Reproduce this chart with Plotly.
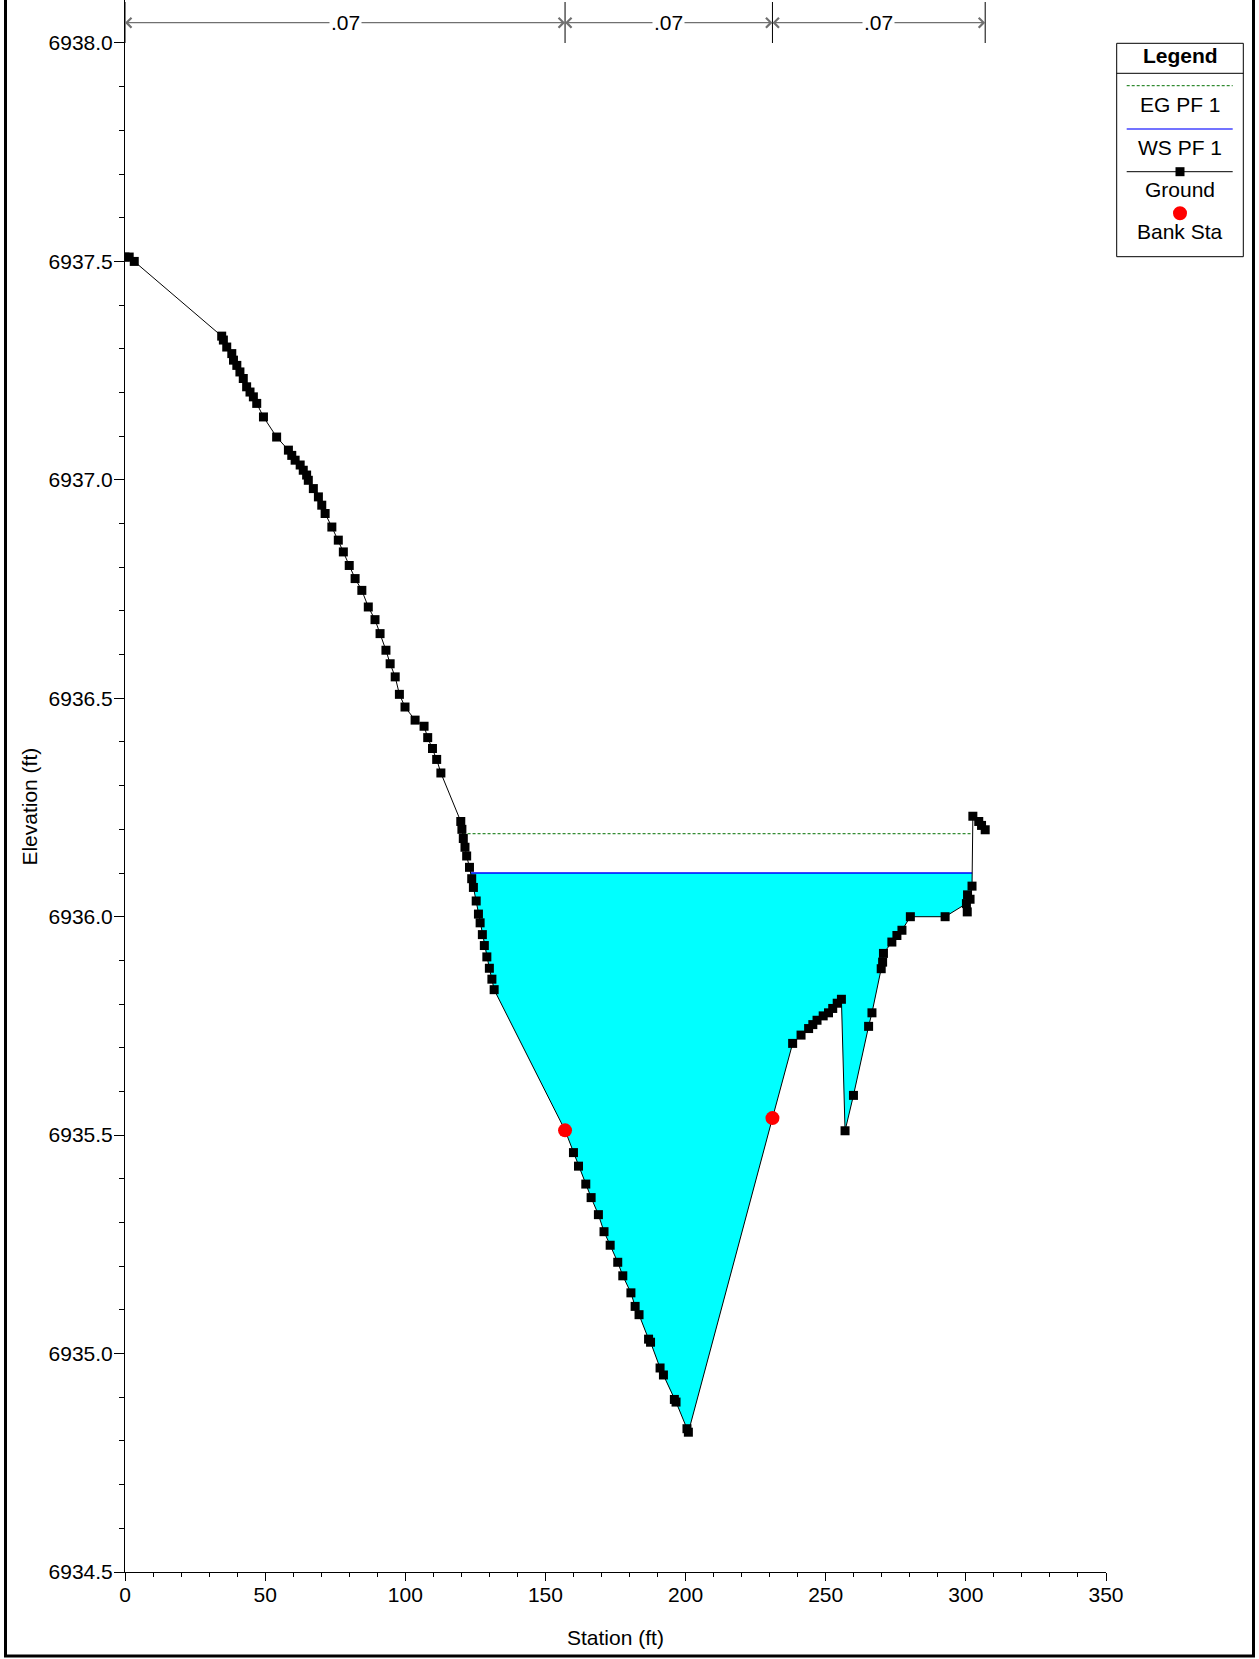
import numpy as np
import plotly.graph_objects as go

# ---------------- data ----------------
station = [
    0.0, 1.5, 3.3,
    34.5, 35.1, 36.3, 38.1, 38.7, 39.9, 41.0, 42.2, 43.4, 44.6, 45.8, 47.0, 49.4,
    54.1, 58.3, 59.5, 60.7, 62.5, 63.6, 64.8, 65.4, 67.2, 69.0, 70.2, 71.4, 73.8,
    76.1, 77.9, 80.0, 82.1, 84.5, 86.8, 89.2, 91.0, 93.1, 94.6, 96.4, 97.9, 99.9,
    103.5, 106.7, 108.0, 109.7, 111.2, 112.7,
    119.8, 120.2, 120.7, 121.3, 121.9, 122.9, 123.7, 124.3, 125.3, 126.1, 126.7,
    127.5, 128.2, 129.1, 130.0, 130.9, 131.7,
    157.0,
    160.0, 161.8, 164.4, 166.3, 168.9, 170.9, 173.1, 175.8, 177.6, 180.5, 182.0,
    183.4, 186.8, 187.5, 190.9, 192.1, 196.0, 196.6, 200.5, 201.0,
    231.0,
    238.2, 241.2, 243.9, 245.4, 246.9, 249.1, 251.0, 252.5, 254.1, 255.6,
    256.9, 259.9, 265.3, 266.5, 269.8, 270.3, 270.6, 273.6, 275.4, 277.2, 280.2,
    292.6, 300.2, 300.5, 300.6, 301.5, 302.2, 302.5, 304.6, 305.6, 306.9,
]
elevation = [
    6937.51, 6937.51, 6937.50,
    6937.329, 6937.320, 6937.304, 6937.289, 6937.274, 6937.262, 6937.247, 6937.232,
    6937.213, 6937.201, 6937.190, 6937.175, 6937.144,
    6937.098, 6937.068, 6937.056, 6937.045, 6937.034, 6937.022, 6937.011, 6936.999,
    6936.980, 6936.961, 6936.942, 6936.923, 6936.892,
    6936.862, 6936.835, 6936.804, 6936.774, 6936.747, 6936.709, 6936.680, 6936.648,
    6936.610, 6936.579, 6936.549, 6936.509, 6936.480,
    6936.450, 6936.436, 6936.410, 6936.385, 6936.360, 6936.329,
    6936.218, 6936.200, 6936.179, 6936.159, 6936.139, 6936.113, 6936.087, 6936.067,
    6936.036, 6936.006, 6935.986, 6935.959, 6935.934, 6935.908, 6935.882, 6935.857,
    6935.833,
    6935.511,
    6935.460, 6935.429, 6935.388, 6935.357, 6935.318, 6935.279, 6935.248, 6935.209,
    6935.178, 6935.139, 6935.108, 6935.089, 6935.033, 6935.026, 6934.967, 6934.951,
    6934.895, 6934.889, 6934.828, 6934.820,
    6935.539,
    6935.710, 6935.729, 6935.744, 6935.753, 6935.763, 6935.773, 6935.780, 6935.790,
    6935.802, 6935.811,
    6935.510, 6935.591, 6935.749, 6935.780, 6935.881, 6935.896, 6935.916, 6935.942,
    6935.957, 6935.969, 6936.000,
    6936.000, 6936.030, 6936.011, 6936.050, 6936.040, 6936.070, 6936.230, 6936.218,
    6936.209, 6936.199,
]
bank_sta = [157.0, 231.0]
ws_elev = 6936.10
eg_elev = 6936.19
n_values = [".07", ".07", ".07"]

# ---------------- geometry helpers ----------------
W, H = 1259, 1659
ML, MR, MT, MB = 125, 153, 0, 87
PW, PH = W - ML - MR, H - MT - MB
Y0, PX_PER_FT_Y = 6934.5, 436.86
YTOP = Y0 + PH / PX_PER_FT_Y


def px_x(px):
    return (px - ML) / PW


def px_y(py):
    return (MT + PH - py) / PH


st = np.array(station)
el = np.array(elevation)


def crossing(level):
    i = int(np.argmax(el <= level))
    xl = st[i - 1] + (level - el[i - 1]) * (st[i] - st[i - 1]) / (el[i] - el[i - 1])
    j = len(el) - 1 - int(np.argmax(el[::-1] <= level))
    xr = st[j] + (level - el[j]) * (st[j + 1] - st[j]) / (el[j + 1] - el[j])
    return i, j, xl, xr


FONT = "Liberation Sans, Arial, sans-serif"
fig = go.Figure()

# water fill
i, j, xl, xr = crossing(ws_elev)
fig.add_trace(go.Scatter(
    x=[xl] + station[i:j + 1] + [xr],
    y=[ws_elev] + elevation[i:j + 1] + [ws_elev],
    fill="toself", fillcolor="#00FFFF", mode="none", hoverinfo="skip",
    showlegend=False))

# EG line
_, _, exl, exr = crossing(eg_elev)
fig.add_trace(go.Scatter(x=[exl, exr], y=[eg_elev, eg_elev], mode="lines",
                         line=dict(color="#007000", width=1, dash="3px,2px"),
                         name="EG PF 1", showlegend=False))
# WS line
fig.add_trace(go.Scatter(x=[xl, xr], y=[ws_elev, ws_elev], mode="lines",
                         line=dict(color="#0000FF", width=1.3),
                         name="WS PF 1", showlegend=False))
# Ground
fig.add_trace(go.Scatter(x=station, y=elevation, mode="lines+markers",
                         line=dict(color="black", width=1),
                         marker=dict(symbol="square", size=9, color="black"),
                         name="Ground", showlegend=False))
# Bank stations
bank_elev = list(np.interp(bank_sta, st, el))
fig.add_trace(go.Scatter(x=bank_sta, y=bank_elev, mode="markers",
                         marker=dict(symbol="circle", size=14, color="#FF0000"),
                         name="Bank Sta", showlegend=False))

shapes = []
annotations = []


def label(x, y, text, xref="paper", yref="paper", **kw):
    d = dict(x=x, y=y, xref=xref, yref=yref, text=text, showarrow=False,
             xanchor="center", yanchor="middle",
             font=dict(family=FONT, size=21, color="black"))
    d.update(kw)
    annotations.append(d)


# n-value segments
n_breaks = [station[0]] + bank_sta + [station[-1]]
y_arrow = px_y(22.7)
for xb in n_breaks:
    shapes.append(dict(type="line", xref="x", yref="paper", x0=xb, x1=xb,
                       y0=px_y(43), y1=px_y(2), line=dict(color="black", width=1)))
for k, nv in enumerate(n_values):
    a, b = n_breaks[k], n_breaks[k + 1]
    m = (a + b) / 2
    for end in (a, b):
        annotations.append(dict(x=end, y=y_arrow, xref="x", yref="paper",
                                ax=m, ay=0, axref="x", ayref="pixel", text="",
                                showarrow=True, arrowhead=4, arrowsize=1.6,
                                arrowwidth=1.2, arrowcolor="#707070", standoff=0))
for k, nv in enumerate(n_values):
    a, b = n_breaks[k], n_breaks[k + 1]
    label((a + b) / 2, y_arrow, nv, xref="x", bgcolor="white", borderpad=1)

# axis titles
label(px_x(615.5), px_y(1637), "Station (ft)")
label(px_x(29.6), px_y(807), "Elevation (ft)", textangle=-90)

# legend (drawn manually)
LX0, LX1, LY0, LY1 = 1116.7, 1243.3, 43.3, 256.7
LC = (LX0 + LX1) / 2
shapes.append(dict(type="rect", xref="paper", yref="paper",
                   x0=px_x(LX0), x1=px_x(LX1), y0=px_y(LY1), y1=px_y(LY0),
                   line=dict(color="black", width=1), fillcolor="white", layer="above"))
shapes.append(dict(type="line", xref="paper", yref="paper",
                   x0=px_x(LX0), x1=px_x(LX1), y0=px_y(73.3), y1=px_y(73.3),
                   line=dict(color="black", width=1)))
sx0, sx1 = 1126.7, 1232.7
shapes.append(dict(type="line", xref="paper", yref="paper", x0=px_x(sx0), x1=px_x(sx1),
                   y0=px_y(85.7), y1=px_y(85.7),
                   line=dict(color="#007000", width=1, dash="3px,2px")))
shapes.append(dict(type="line", xref="paper", yref="paper", x0=px_x(sx0), x1=px_x(sx1),
                   y0=px_y(129), y1=px_y(129), line=dict(color="#4444FF", width=1.5)))
shapes.append(dict(type="line", xref="paper", yref="paper", x0=px_x(sx0), x1=px_x(sx1),
                   y0=px_y(171.7), y1=px_y(171.7), line=dict(color="black", width=1)))
shapes.append(dict(type="rect", xref="paper", yref="paper",
                   x0=px_x(LC - 4.5), x1=px_x(LC + 4.5), y0=px_y(171.7 + 4.5),
                   y1=px_y(171.7 - 4.5), line=dict(width=0), fillcolor="black"))
shapes.append(dict(type="circle", xref="paper", yref="paper",
                   x0=px_x(LC - 7), x1=px_x(LC + 7), y0=px_y(213.3 + 7),
                   y1=px_y(213.3 - 7), line=dict(width=0), fillcolor="#FF0000"))
label(px_x(LC), px_y(56), "<b>Legend</b>")
for text, yy in [("EG PF 1", 104), ("WS PF 1", 147.3), ("Ground", 189.3), ("Bank Sta", 231.7)]:
    label(px_x(LC), px_y(yy), text)

# outer frame
shapes.append(dict(type="rect", xref="paper", yref="paper",
                   x0=px_x(5.5), x1=px_x(1253.5), y0=px_y(1656), y1=px_y(-10),
                   line=dict(color="black", width=3)))

fig.update_layout(
    width=W, height=H,
    margin=dict(l=ML, r=MR, t=MT, b=MB, autoexpand=False),
    paper_bgcolor="white", plot_bgcolor="white",
    font=dict(family=FONT, size=21, color="black"),
    showlegend=False,
    shapes=shapes, annotations=annotations,
    xaxis=dict(range=[0, 350], dtick=50, tick0=0, showgrid=False, zeroline=False,
               showline=True, linecolor="black", linewidth=1,
               ticks="outside", ticklen=8, tickcolor="black", ticklabelstandoff=-4,
               tickfont=dict(family=FONT, size=21, color="black"),
               minor=dict(dtick=10, tick0=0, ticks="outside", ticklen=4, tickcolor="black")),
    yaxis=dict(range=[Y0, YTOP], dtick=0.5, tick0=Y0, tickformat=".1f",
               showgrid=False, zeroline=False,
               showline=True, linecolor="black", linewidth=1,
               ticks="outside", ticklen=10, tickcolor="black", ticklabelstandoff=-3,
               tickfont=dict(family=FONT, size=21, color="black"),
               minor=dict(dtick=0.1, tick0=Y0, ticks="outside", ticklen=5, tickcolor="black")),
)

fig.write_html("out.html", config={"displayModeBar": False},
               post_script="document.body.style.margin='0';document.body.style.overflow='hidden';")
